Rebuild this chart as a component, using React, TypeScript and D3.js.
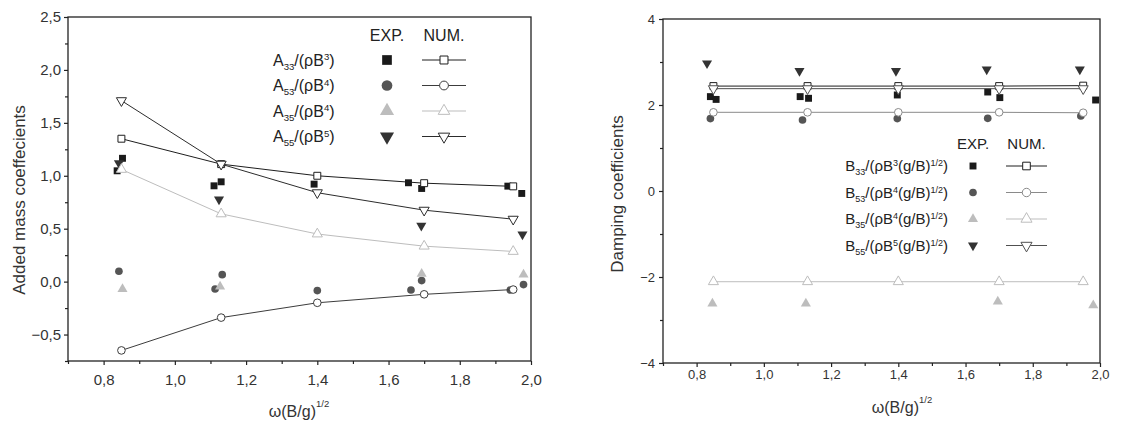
import React, { useEffect, useRef } from 'react';
import * as d3 from 'd3';

// abscissa of the numerical results (both panels)
const numX = [0.85, 1.13, 1.4, 1.7, 1.95];

// added mass, numerical
const a33Num = [1.35, 1.11, 1.0, 0.93, 0.9];
const a53Num = [-0.65, -0.34, -0.2, -0.12, -0.075];
const a35Num = [1.06, 0.64, 0.45, 0.335, 0.285];
const a55Num = [1.71, 1.11, 0.84, 0.675, 0.59];

// added mass, experiments [x, y]
const a33Exp = [[0.838, 1.047], [0.853, 1.165], [1.11, 0.905], [1.13, 0.943], [1.391, 0.921], [1.656, 0.934], [1.693, 0.88], [1.935, 0.902], [1.974, 0.833]];
const a53Exp = [[0.843, 0.098], [1.113, -0.07], [1.133, 0.066], [1.4, -0.085], [1.663, -0.079], [1.693, 0.01], [1.942, -0.079], [1.979, -0.028]];
const a35Exp = [[0.853, -0.07], [1.127, -0.047], [1.693, 0.073], [1.979, 0.066]];
const a55Exp = [[0.843, 1.12], [1.124, 0.776], [1.692, 0.529], [1.976, 0.446]];

// damping, numerical
const b33Num = [2.44, 2.44, 2.44, 2.44, 2.45];
const b53Num = [1.83, 1.83, 1.83, 1.83, 1.82];
const b35Num = [-2.11, -2.11, -2.11, -2.11, -2.11];
const b55Num = [2.38, 2.38, 2.38, 2.38, 2.38];

// damping, experiments [x, y]
const b33Exp = [[0.841, 2.195], [0.858, 2.13], [1.108, 2.195], [1.133, 2.156], [1.397, 2.233], [1.666, 2.302], [1.702, 2.172], [1.987, 2.116]];
const b53Exp = [[0.841, 1.684], [1.115, 1.651], [1.397, 1.684], [1.666, 1.69], [1.943, 1.744]];
const b35Exp = [[0.847, -2.62], [1.125, -2.62], [1.696, -2.57], [1.98, -2.66]];
const b55Exp = [[0.831, 2.97], [1.106, 2.79], [1.393, 2.79], [1.663, 2.83], [1.94, 2.83]];

// ticks
const xTicks = [0.8, 1.0, 1.2, 1.4, 1.6, 1.8, 2.0];
const xMinor = [0.7, 0.9, 1.1, 1.3, 1.5, 1.7, 1.9];
const aTicks = [-0.5, 0, 0.5, 1.0, 1.5, 2.0, 2.5];
const aMinor = [-0.75, -0.25, 0.25, 0.75, 1.25, 1.75, 2.25];
const bTicks = [-4, -2, 0, 2, 4];
const bMinor = [-3, -1, 1, 3];

// legend labels: [text, 'sub' | 'sup' | '']
const aLabels = [
  [['A', ''], ['33', 'sub'], ['/(ρB', ''], ['3', 'sup'], [')', '']],
  [['A', ''], ['53', 'sub'], ['/(ρB', ''], ['4', 'sup'], [')', '']],
  [['A', ''], ['35', 'sub'], ['/(ρB', ''], ['4', 'sup'], [')', '']],
  [['A', ''], ['55', 'sub'], ['/(ρB', ''], ['5', 'sup'], [')', '']],
];
const bLabels = [
  [['B', ''], ['33', 'sub'], ['/(ρB', ''], ['3', 'sup'], ['(g/B)', ''], ['1/2', 'sup'], [')', '']],
  [['B', ''], ['53', 'sub'], ['/(ρB', ''], ['4', 'sup'], ['(g/B)', ''], ['1/2', 'sup'], [')', '']],
  [['B', ''], ['35', 'sub'], ['/(ρB', ''], ['4', 'sup'], ['(g/B)', ''], ['1/2', 'sup'], [')', '']],
  [['B', ''], ['55', 'sub'], ['/(ρB', ''], ['5', 'sup'], ['(g/B)', ''], ['1/2', 'sup'], [')', '']],
];

const FONT = '"Liberation Sans", Arial, Helvetica, sans-serif';

const shapes = ['square', 'circle', 'up', 'down'];
const expColors = ['#1a1a1a', '#555555', '#bdbdbd', '#333333'];

function symPath(shape: string) {
  const type = shape === 'square' ? d3.symbolSquare : shape === 'circle' ? d3.symbolCircle : d3.symbolTriangle;
  const size = shape === 'square' ? 48 : shape === 'circle' ? 46 : 44;
  return d3.symbol().type(type).size(size)() as string;
}

function marker(g: any, cx: number, cy: number, shape: string, fill: string, stroke: string, k = 1) {
  g.append('path')
    .attr('d', symPath(shape))
    .attr('transform', `translate(${cx},${cy}) scale(${k})` + (shape === 'down' ? ' rotate(180)' : ''))
    .attr('fill', fill)
    .attr('stroke', stroke)
    .attr('stroke-width', fill === 'white' ? 1 / k : 0);
}

function richText(g: any, x: number, y: number, parts: any[], fs: number, anchor: string) {
  const t = g.append('text')
    .attr('x', x).attr('y', y)
    .attr('font-size', fs)
    .attr('text-anchor', anchor)
    .attr('fill', '#222');
  let cur = 0;
  parts.forEach(([s, k]: [string, string]) => {
    const target = k === 'sub' ? fs * 0.24 : k === 'sup' ? -fs * 0.36 : 0;
    t.append('tspan')
      .attr('dy', target - cur)
      .attr('font-size', k ? fs * 0.6 : fs)
      .text(s);
    cur = target;
  });
  return t;
}

function drawPanel(svg: any, cfg: any) {
  const x = d3.scaleLinear().domain([0.7, 2.0]).range([cfg.x0, cfg.x1]);
  const y = d3.scaleLinear().domain(cfg.yDomain).range([cfg.y1, cfg.y0]);
  const g = svg.append('g');

  // axes
  const styleAxis = (a: any, fs: number) => {
    a.select('.domain').remove();
    a.selectAll('line').attr('stroke', '#222').attr('stroke-width', 1.2);
    a.selectAll('text').attr('font-size', fs).attr('font-family', FONT).attr('fill', '#333');
  };
  const bottom = g.append('g').attr('transform', `translate(0,${cfg.y1})`)
    .call(d3.axisBottom(x).tickValues(xTicks).tickSize(4).tickPadding(cfg.xPad)
      .tickFormat((d: any) => d3.format('.1f')(d).replace('.', ',')));
  styleAxis(bottom, cfg.tickFs);
  const bottomMinor = g.append('g').attr('transform', `translate(0,${cfg.y1})`)
    .call(d3.axisBottom(x).tickValues(xMinor).tickSize(3).tickFormat(() => ''));
  styleAxis(bottomMinor, cfg.tickFs);
  const left = g.append('g').attr('transform', `translate(${cfg.x0},0)`)
    .call(d3.axisLeft(y).tickValues(cfg.yTicks).tickSize(4).tickPadding(cfg.yPad).tickFormat(cfg.yFmt));
  styleAxis(left, cfg.tickFs);
  const leftMinor = g.append('g').attr('transform', `translate(${cfg.x0},0)`)
    .call(d3.axisLeft(y).tickValues(cfg.yMinor).tickSize(3).tickFormat(() => ''));
  styleAxis(leftMinor, cfg.tickFs);

  g.append('rect')
    .attr('x', cfg.x0).attr('y', cfg.y0)
    .attr('width', cfg.x1 - cfg.x0).attr('height', cfg.y1 - cfg.y0)
    .attr('fill', 'none').attr('stroke', '#222').attr('stroke-width', 1.3);

  // experimental points
  cfg.exp.forEach((pts: number[][], i: number) => {
    pts.forEach((p) => marker(g, x(p[0]), y(p[1]), shapes[i], expColors[i], expColors[i]));
  });

  // numerical lines with open markers
  const line = d3.line<number>().x((_, j) => x(numX[j])).y((d) => y(d));
  cfg.num.forEach((vals: number[], i: number) => {
    g.append('path').attr('d', line(vals)).attr('fill', 'none')
      .attr('stroke', cfg.lineColors[i]).attr('stroke-width', 1);
    vals.forEach((v, j) => marker(g, x(numX[j]), y(v), shapes[i], 'white', cfg.lineColors[i]));
  });

  // legend
  const L = cfg.legend;
  g.append('text').attr('x', L.expX).attr('y', L.headY).attr('text-anchor', 'middle')
    .attr('font-size', L.fs).attr('fill', '#222').text('EXP.');
  g.append('text').attr('x', (L.lineX0 + L.lineX1) / 2).attr('y', L.headY).attr('text-anchor', 'middle')
    .attr('font-size', L.fs).attr('fill', '#222').text('NUM.');
  cfg.labels.forEach((parts: any[], i: number) => {
    const cy = L.rowY + i * L.rowH;
    richText(g, L.textX, cy + L.fs * 0.36, parts, L.fs, L.anchor);
    marker(g, L.expX, cy, shapes[i], expColors[i], expColors[i], L.expK);
    g.append('line').attr('x1', L.lineX0).attr('x2', L.lineX1).attr('y1', cy).attr('y2', cy)
      .attr('stroke', cfg.lineColors[i]).attr('stroke-width', 1);
    marker(g, (L.lineX0 + L.lineX1) / 2, cy, shapes[i], 'white', cfg.lineColors[i], L.numK);
  });

  // axis titles
  g.append('text')
    .attr('transform', `translate(${cfg.yTitleX},${cfg.yTitleY}) rotate(-90)`)
    .attr('text-anchor', 'middle').attr('font-size', 17).attr('fill', '#333')
    .text(cfg.yTitle);
  const xt = g.append('text').attr('x', cfg.xTitleX).attr('y', cfg.xTitleY)
    .attr('text-anchor', 'middle').attr('font-size', 16).attr('fill', '#333');
  xt.append('tspan').text('ω(B/g)');
  xt.append('tspan').attr('dy', -10).attr('font-size', 9.5).text('1/2');
}

export default function App() {
  const ref = useRef<SVGSVGElement>(null);

  useEffect(() => {
    document.body.style.margin = '0';
    const svg = d3.select(ref.current);
    svg.selectAll('*').remove();

    drawPanel(svg, {
      x0: 68, x1: 531, y0: 17, y1: 361,
      yDomain: [-0.75, 2.5], yTicks: aTicks, yMinor: aMinor,
      yFmt: (d: any) => d3.format('.1f')(d).replace('.', ',').replace('-0,0', '0,0'),
      tickFs: 15, xPad: 9, yPad: 3,
      exp: [a33Exp, a53Exp, a35Exp, a55Exp],
      num: [a33Num, a53Num, a35Num, a55Num],
      lineColors: ['#1e1e1e', '#3c3c3c', '#bdbdbd', '#2c2c2c'],
      labels: aLabels,
      legend: { fs: 16, headY: 41, rowY: 60, rowH: 25.5, textX: 273, anchor: 'start', expX: 387, lineX0: 422, lineX1: 466, expK: 1.4, numK: 1.15 },
      yTitle: 'Added mass coeffecients', yTitleX: 25, yTitleY: 200,
      xTitleX: 299, xTitleY: 417,
    });

    drawPanel(svg, {
      x0: 663, x1: 1100, y0: 19, y1: 363,
      yDomain: [-4, 4], yTicks: bTicks, yMinor: bMinor,
      yFmt: (d: any) => d3.format('d')(d),
      tickFs: 13, xPad: 3, yPad: 4,
      exp: [b33Exp, b53Exp, b35Exp, b55Exp],
      num: [b33Num, b53Num, b35Num, b55Num],
      lineColors: ['#1e1e1e', '#8a8a8a', '#bdbdbd', '#505050'],
      labels: bLabels,
      legend: { fs: 15, headY: 148.5, rowY: 166, rowH: 26.5, textX: 948, anchor: 'end', expX: 973, lineX0: 1006, lineX1: 1047, expK: 1, numK: 1.1 },
      yTitle: 'Damping coefficients', yTitleX: 623, yTitleY: 194,
      xTitleX: 902, xTitleY: 413,
    });
  }, []);

  return (
    <svg ref={ref} width={1148} height={423}
      style={{ display: 'block', background: 'white', fontFamily: FONT }} />
  );
}
